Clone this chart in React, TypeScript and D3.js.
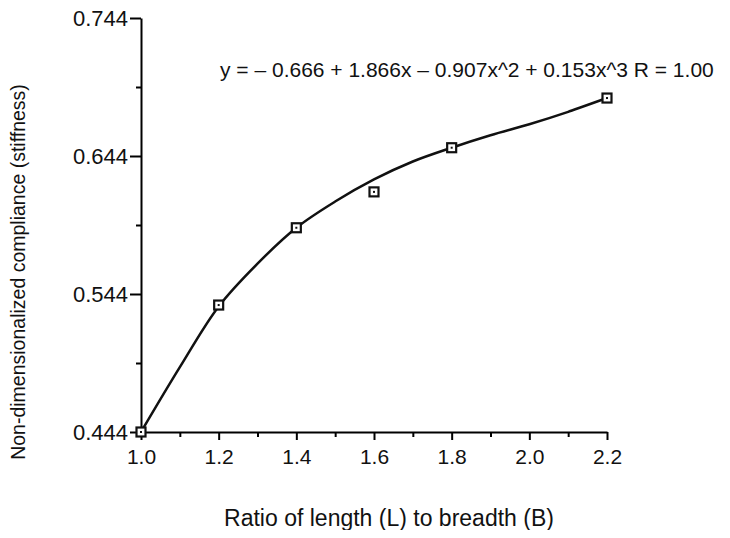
import React, { useRef, useEffect } from 'react';
import * as d3 from 'd3';

// measured points
const ratios = [1.0, 1.2, 1.4, 1.6, 1.8, 2.2];
const stiffness = [0.444, 0.536, 0.592, 0.618, 0.650, 0.686];

// fitted curve
const curveX = [1.0, 1.1, 1.2, 1.3, 1.4, 1.5, 1.6, 1.7, 1.8, 1.9, 2.0, 2.1, 2.2];
const curveY = [0.444, 0.491, 0.535, 0.566, 0.592, 0.611, 0.627, 0.640, 0.650, 0.659, 0.667, 0.676, 0.686];

const xTicks = [1.0, 1.2, 1.4, 1.6, 1.8, 2.0, 2.2];
const xMinorTicks = [1.1, 1.3, 1.5, 1.7, 1.9, 2.1];
const yTicks = [0.444, 0.544, 0.644, 0.744];
const yMinorTicks = [0.494, 0.594, 0.694];

const equation = 'y = – 0.666 + 1.866x – 0.907x^2 + 0.153x^3 R = 1.00';

const FONT = '"Liberation Sans", Arial, Helvetica, sans-serif';

const Chart = ({ width = 730, height = 538 }) => {
    const svgRef = useRef<SVGSVGElement>(null);

    useEffect(() => {
        const svg = d3.select(svgRef.current);
        svg.selectAll('*').remove();

        const x = d3.scaleLinear().domain([1.0, 2.2]).range([141, 607]);
        const y = d3.scaleLinear().domain([0.444, 0.744]).range([432, 18]);

        const g = svg.append('g').style('font-family', FONT);

        // x axis
        const xAxis = g.append('g').attr('transform', `translate(0,${y(0.444)})`);
        xAxis.call(d3.axisBottom(x).tickValues(xTicks).tickSize(8).tickSizeOuter(0).tickFormat(d3.format('.1f')));
        xAxis.append('g').call(d3.axisBottom(x).tickValues(xMinorTicks).tickSize(5).tickFormat(() => ''))
            .select('.domain').remove();
        xAxis.selectAll('.domain').attr('stroke-width', 2);
        xAxis.selectAll('line').attr('stroke-width', 2);
        xAxis.selectAll('text')
            .attr('font-family', FONT)
            .attr('font-size', 21)
            .attr('fill', '#111')
            .attr('dy', '1.0em');

        // y axis
        const yAxis = g.append('g').attr('transform', `translate(${x(1.0)},0)`);
        yAxis.call(d3.axisLeft(y).tickValues(yTicks).tickSize(11).tickSizeOuter(0).tickFormat(d3.format('.3f')));
        yAxis.append('g').call(d3.axisLeft(y).tickValues(yMinorTicks).tickSize(5).tickFormat(() => ''))
            .select('.domain').remove();
        yAxis.selectAll('.domain').attr('stroke-width', 2);
        yAxis.selectAll('line').attr('stroke-width', 2);
        yAxis.selectAll('text')
            .attr('font-family', FONT)
            .attr('font-size', 22)
            .attr('fill', '#111')
            .attr('x', -13);

        // fitted curve
        const line = d3.line<number>()
            .x((d, i) => x(curveX[i]))
            .y(d => y(d))
            .curve(d3.curveCatmullRom.alpha(0.5));
        g.append('path')
            .datum(curveY)
            .attr('d', line)
            .attr('fill', 'none')
            .attr('stroke', '#111')
            .attr('stroke-width', 2.5);

        // markers
        const pts = g.selectAll('.pt')
            .data(ratios.map((r, i) => ({ r, v: stiffness[i] })))
            .enter()
            .append('g')
            .attr('transform', d => `translate(${x(d.r)},${y(d.v)})`);
        pts.append('rect')
            .attr('x', -4.5).attr('y', -4.5).attr('width', 9).attr('height', 9)
            .attr('fill', 'white').attr('stroke', '#111').attr('stroke-width', 2.2);
        pts.append('rect')
            .attr('x', -1).attr('y', -1).attr('width', 2).attr('height', 2)
            .attr('fill', '#111');

        // equation
        g.append('text')
            .attr('x', 220).attr('y', 77)
            .attr('font-size', 21)
            .attr('fill', '#111')
            .text(equation);

        // axis titles
        g.append('text')
            .attr('x', 389).attr('y', 526)
            .attr('text-anchor', 'middle')
            .attr('font-size', 23)
            .attr('fill', '#111')
            .text('Ratio of length (L) to breadth (B)');

        g.append('text')
            .attr('transform', 'translate(25,272) rotate(-90)')
            .attr('text-anchor', 'middle')
            .attr('font-size', 19.5)
            .attr('fill', '#111')
            .text('Non-dimensionalized compliance (stiffness)');
    }, [width, height]);

    return <svg ref={svgRef} width={width} height={height} style={{ display: 'block' }}></svg>;
};

export default function App() {
    return (
        <div style={{ margin: -8 }}>
            <Chart />
        </div>
    );
}
